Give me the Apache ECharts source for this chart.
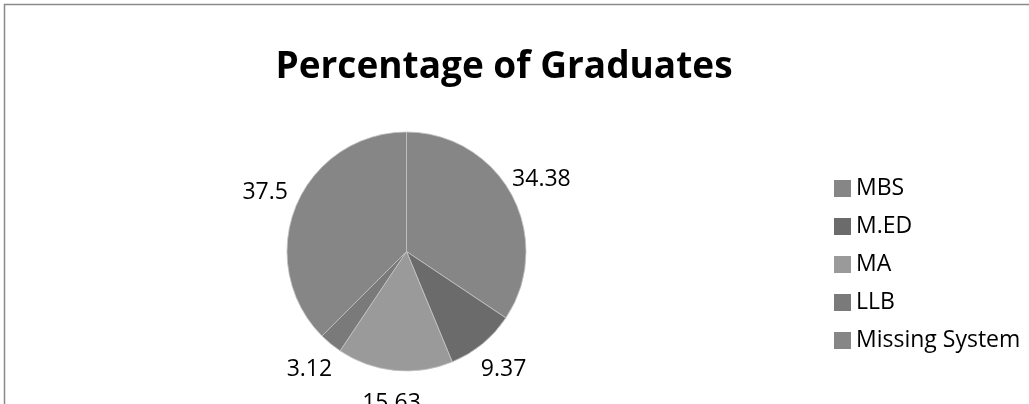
<!DOCTYPE html>
<html>
<head>
<meta charset="utf-8">
<script src="https://cdn.jsdelivr.net/npm/echarts@6/dist/echarts.min.js"></script>
<style>
  html, body { margin: 0; padding: 0; background: #fff; }
  #chart { width: 1029px; height: 404px; }
</style>
</head>
<body>
<div id="chart"></div>
<script>
  // categories and values (percent)
  var degreeNames = ['MBS', 'M.ED', 'MA', 'LLB', 'Missing System'];
  var degreeValues = [34.38, 9.37, 15.63, 3.12, 37.5];
  // grey fill of each slice
  var sliceColors = ['#868686', '#6b6b6b', '#9a9a9a', '#7a7a7a', '#868686'];

  var pieData = [];
  var labelData = [];
  for (var i = 0; i < degreeNames.length; i++) {
    pieData.push({
      name: degreeNames[i],
      value: degreeValues[i],
      itemStyle: { color: sliceColors[i] }
    });
    labelData.push({ name: degreeNames[i], value: degreeValues[i] });
  }

  var myChart = echarts.init(document.getElementById('chart'));
  var option = {
    backgroundColor: '#fff',
    animation: false,
    title: {
      text: 'Percentage of Graduates',
      left: 499,
      top: 44,
      textAlign: 'center',
      textStyle: {
        fontFamily: 'Open Sans',
        fontWeight: 'bold',
        fontSize: 37,
        color: '#000'
      }
    },
    legend: {
      orient: 'vertical',
      left: 829,
      top: 172,
      itemWidth: 17,
      itemHeight: 17,
      itemGap: 15,
      icon: 'rect',
      itemStyle: { borderWidth: 0 },
      data: degreeNames,
      textStyle: {
        fontFamily: 'Open Sans',
        fontSize: 23,
        lineHeight: 21,
        color: '#000'
      }
    },
    graphic: [{
      type: 'rect',
      silent: true,
      shape: { x: 4.5, y: 4.5, width: 1100, height: 500 },
      style: { fill: 'none', stroke: '#8a8a8a', lineWidth: 1.5 }
    }],
    series: [
      {
        name: 'Graduates',
        type: 'pie',
        center: [406.5, 251.5],
        radius: 119.5,
        startAngle: 90,
        clockwise: true,
        silent: true,
        label: { show: false },
        labelLine: { show: false },
        itemStyle: { borderColor: '#c4c4c4', borderWidth: 0.8 },
        data: pieData
      },
      {
        // invisible ring that only carries the value labels
        name: 'labels',
        type: 'pie',
        center: [406.5, 251.5],
        radius: [142, 158],
        startAngle: 90,
        clockwise: true,
        silent: true,
        legendHoverLink: false,
        itemStyle: { color: 'rgba(0,0,0,0)' },
        label: {
          show: true,
          position: 'inside',
          formatter: '{c}',
          fontFamily: 'Open Sans',
          fontSize: 23,
          color: '#000'
        },
        labelLine: { show: false },
        data: labelData
      }
    ]
  };
  myChart.setOption(option);
</script>
</body>
</html>
